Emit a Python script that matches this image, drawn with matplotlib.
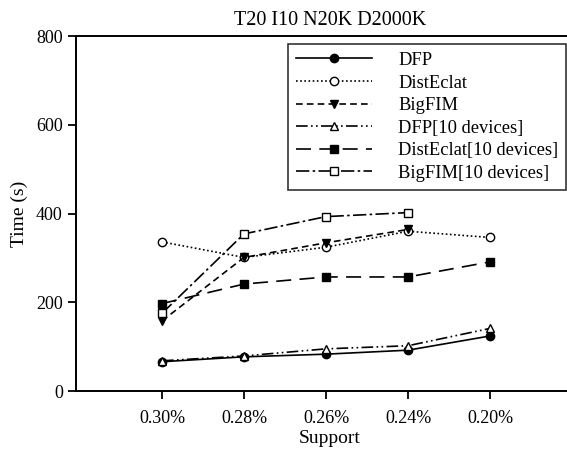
import matplotlib
matplotlib.use("Agg")
import matplotlib.pyplot as plt

plt.rcParams['font.family'] = ['Liberation Serif', 'DejaVu Serif']

supports = ["0.30%", "0.28%", "0.26%", "0.24%", "0.20%"]
dfp = [66, 77, 83, 92, 124]
disteclat = [336, 301, 324, 360, 346]
bigfim = [158, 301, 334, 364]
dfp10 = [68, 79, 95, 102, 141]
disteclat10 = [197, 241, 257, 257, 291]
bigfim10 = [175, 354, 393, 402]

fig = plt.figure(figsize=(5.67, 4.5), dpi=100)
ax_left = 76 / 567
ax_width = 1.03 - ax_left
ax = fig.add_axes([ax_left, 1 - 391 / 450, ax_width, (391 - 36) / 450])

x = list(range(len(supports)))
lw = 1.2
ms = 6
ax.plot(x, dfp, color='black', linestyle='-', lw=lw, marker='o', ms=ms,
        mfc='black', mec='black', label='DFP')
ax.plot(x, disteclat, color='black', linestyle=(0, (1, 1.5)), lw=lw, marker='o', ms=ms,
        mfc='white', mec='black', label='DistEclat')
ax.plot(x[:len(bigfim)], bigfim, color='black', linestyle=(0, (4, 2.5)), lw=lw, marker='v', ms=ms,
        mfc='black', mec='black', label='BigFIM')
ax.plot(x, dfp10, color='black', linestyle=(0, (7, 2, 1, 2, 1, 2)), lw=lw, marker='^', ms=ms,
        mfc='white', mec='black', label='DFP[10 devices]')
ax.plot(x, disteclat10, color='black', linestyle=(0, (9, 5)), lw=lw, marker='s', ms=ms,
        mfc='black', mec='black', label='DistEclat[10 devices]')
ax.plot(x[:len(bigfim10)], bigfim10, color='black', linestyle=(0, (8, 2, 1.5, 2)), lw=lw, marker='s', ms=ms,
        mfc='white', mec='black', label='BigFIM[10 devices]')

px_w = ax_width * 567
x0 = -86 / 82
ax.set_xlim(x0, x0 + px_w / 82)
ax.set_ylim(0, 800)
ax.set_yticks([0, 200, 400, 600, 800])
ax.set_xticks(x)
ax.set_xticklabels(supports)
ax.tick_params(direction='out', length=6, width=1.3, labelsize=13, colors='black')
ax.tick_params(axis='x', pad=8)
for s in ['left', 'bottom', 'top']:
    ax.spines[s].set_linewidth(1.4)
ax.spines['right'].set_visible(False)

ax.set_xlabel('Support', fontsize=14, labelpad=2)
ax.set_ylabel('Time (s)', fontsize=14, labelpad=6)
ax.set_title('T20 I10 N20K D2000K', fontsize=14.5, pad=8)

leg = fig.legend(loc='upper right', bbox_to_anchor=(0.999, 0.903), fontsize=13.3,
                 handlelength=4.1, frameon=True, fancybox=False, edgecolor='black',
                 borderpad=0.45, labelspacing=0.3, handletextpad=1.4, borderaxespad=0)
leg.get_frame().set_linewidth(1.2)

fig.savefig('out.png', dpi=100)
